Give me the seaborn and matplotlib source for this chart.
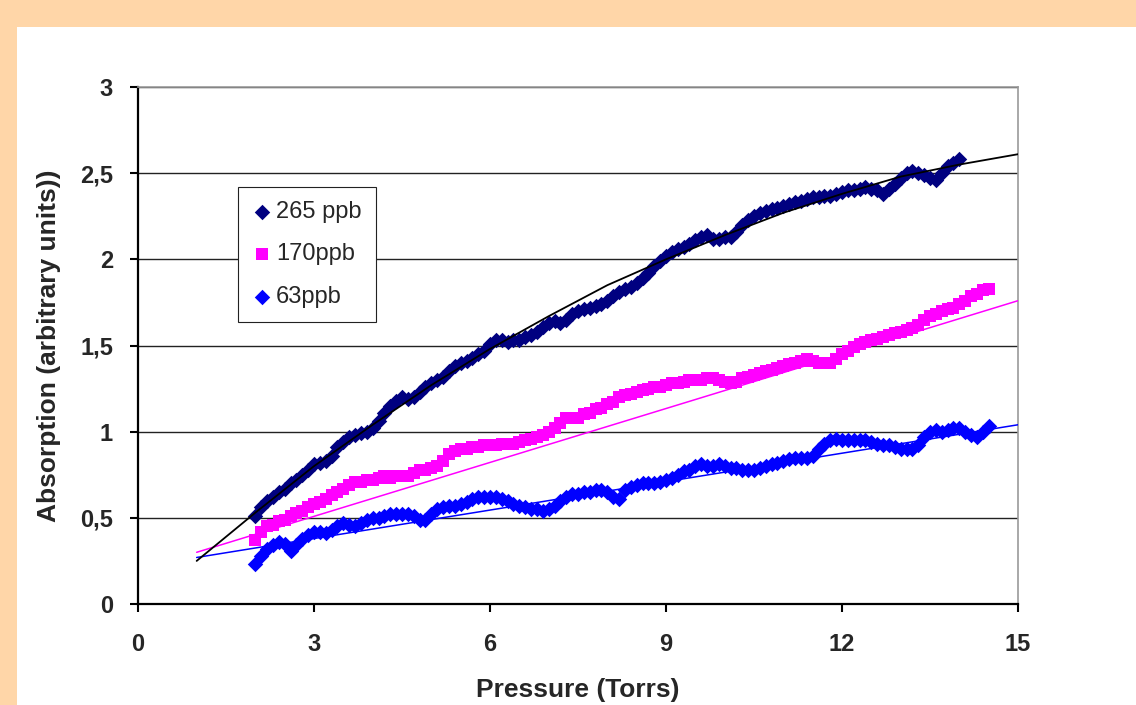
import numpy as np
import pandas as pd
import seaborn as sns
import matplotlib.pyplot as plt
from matplotlib.patches import Rectangle

# Absorption vs pressure for three concentrations

# readings every 0.1 Torr
p_265 = np.round(np.arange(2.0, 14.01, 0.1), 1)
p_170 = np.round(np.arange(2.0, 14.51, 0.1), 1)
p_63 = np.round(np.arange(2.0, 14.51, 0.1), 1)

abs_265 = [0.51, 0.56, 0.60, 0.62, 0.65, 0.67, 0.70, 0.72, 0.75, 0.78,
           0.81, 0.82, 0.83, 0.86, 0.91, 0.94, 0.97, 0.98, 0.99, 1.00,
           1.02, 1.06, 1.11, 1.15, 1.18, 1.20, 1.19, 1.20, 1.23, 1.26,
           1.28, 1.30, 1.32, 1.35, 1.38, 1.40, 1.41, 1.43, 1.45, 1.47,
           1.51, 1.53, 1.53, 1.52, 1.53, 1.53, 1.55, 1.56, 1.58, 1.61,
           1.63, 1.64, 1.63, 1.65, 1.68, 1.70, 1.71, 1.72, 1.73, 1.74,
           1.76, 1.79, 1.81, 1.83, 1.84, 1.86, 1.89, 1.92, 1.96, 1.99,
           2.02, 2.04, 2.06, 2.07, 2.09, 2.11, 2.13, 2.14, 2.12, 2.12,
           2.13, 2.13, 2.16, 2.20, 2.23, 2.25, 2.27, 2.28, 2.29, 2.30,
           2.31, 2.32, 2.33, 2.34, 2.35, 2.36, 2.36, 2.37, 2.37, 2.38,
           2.39, 2.40, 2.40, 2.41, 2.42, 2.41, 2.40, 2.38, 2.41, 2.44,
           2.47, 2.50, 2.51, 2.50, 2.49, 2.47, 2.46, 2.50, 2.54, 2.56,
           2.58]

abs_170 = [0.37, 0.42, 0.45, 0.46, 0.48, 0.49, 0.51, 0.53, 0.54, 0.56,
           0.58, 0.59, 0.61, 0.63, 0.65, 0.67, 0.69, 0.71, 0.71, 0.72,
           0.72, 0.73, 0.74, 0.73, 0.74, 0.74, 0.74, 0.76, 0.78, 0.78,
           0.79, 0.80, 0.83, 0.87, 0.89, 0.90, 0.90, 0.91, 0.91, 0.92,
           0.92, 0.92, 0.93, 0.93, 0.93, 0.94, 0.95, 0.96, 0.97, 0.98,
           1.00, 1.02, 1.05, 1.08, 1.08, 1.08, 1.10, 1.11, 1.13, 1.14,
           1.16, 1.17, 1.20, 1.21, 1.22, 1.23, 1.24, 1.25, 1.26, 1.26,
           1.27, 1.28, 1.28, 1.29, 1.30, 1.30, 1.30, 1.31, 1.31, 1.30,
           1.29, 1.28, 1.29, 1.31, 1.32, 1.33, 1.34, 1.35, 1.36, 1.37,
           1.38, 1.39, 1.40, 1.41, 1.42, 1.41, 1.40, 1.40, 1.40, 1.42,
           1.45, 1.47, 1.49, 1.51, 1.52, 1.53, 1.54, 1.55, 1.56, 1.57,
           1.58, 1.59, 1.60, 1.62, 1.65, 1.67, 1.68, 1.70, 1.71, 1.72,
           1.74, 1.76, 1.79, 1.80, 1.82, 1.83]

abs_63 = [0.23, 0.28, 0.32, 0.34, 0.36, 0.35, 0.31, 0.34, 0.38, 0.40,
          0.42, 0.42, 0.41, 0.43, 0.45, 0.47, 0.46, 0.45, 0.47, 0.49,
          0.50, 0.50, 0.51, 0.52, 0.52, 0.52, 0.52, 0.51, 0.49, 0.49,
          0.52, 0.55, 0.56, 0.57, 0.57, 0.58, 0.59, 0.61, 0.62, 0.62,
          0.62, 0.62, 0.61, 0.60, 0.58, 0.57, 0.56, 0.55, 0.55, 0.54,
          0.55, 0.57, 0.60, 0.62, 0.64, 0.64, 0.65, 0.65, 0.66, 0.66,
          0.65, 0.62, 0.61, 0.66, 0.68, 0.69, 0.70, 0.70, 0.70, 0.71,
          0.72, 0.73, 0.75, 0.77, 0.78, 0.80, 0.81, 0.80, 0.80, 0.81,
          0.80, 0.79, 0.79, 0.78, 0.78, 0.78, 0.79, 0.80, 0.81, 0.82,
          0.83, 0.84, 0.85, 0.85, 0.85, 0.86, 0.90, 0.93, 0.95, 0.96,
          0.95, 0.95, 0.95, 0.95, 0.95, 0.94, 0.93, 0.92, 0.92, 0.91,
          0.90, 0.90, 0.90, 0.92, 0.97, 1.00, 1.01, 1.00, 1.01, 1.02,
          1.02, 1.00, 0.98, 0.97, 1.00, 1.03]

# trend lines as drawn on the chart
trend_p_265 = [1, 2, 3, 4, 5, 6, 7, 8, 9, 10, 11, 12, 13, 14, 15]
trend_265 = [0.25, 0.53, 0.80, 1.04, 1.27, 1.48, 1.67, 1.85, 2.00, 2.14,
             2.27, 2.38, 2.48, 2.55, 2.61]
trend_p_lin = [1, 15]
trend_170 = [0.30, 1.76]
trend_63 = [0.27, 1.04]

labels = ['265 ppb', '170ppb', '63ppb']
y_ticks = [0, 0.5, 1, 1.5, 2, 2.5, 3]
y_tick_labels = ['0', '0,5', '1', '1,5', '2', '2,5', '3']
x_ticks = [0, 3, 6, 9, 12, 15]

sns.set_style('ticks')
plt.rcParams['font.family'] = ['Liberation Sans', 'DejaVu Sans']

W, H = 1136, 705
fig = plt.figure(figsize=(W / 100, H / 100), dpi=100, facecolor='#FFD6A8')
# white panel behind the chart (peach border on top and left)
fig.patches.append(Rectangle((17 / W, 0), (W - 17) / W, (H - 27) / H,
                             transform=fig.transFigure, facecolor='white',
                             edgecolor='none', zorder=-5))
ax = fig.add_axes([138 / W, 101 / H, 880 / W, 517 / H])
ax.set_zorder(1)
ax.set_facecolor('white')

df_265 = pd.DataFrame({'p': p_265, 'a': abs_265})
df_170 = pd.DataFrame({'p': p_170, 'a': abs_170})
df_63 = pd.DataFrame({'p': p_63, 'a': abs_63})

sns.scatterplot(data=df_265, x='p', y='a', ax=ax, marker='D', s=62,
                color='#000080', linewidth=0, label=labels[0], zorder=3)
sns.scatterplot(data=df_170, x='p', y='a', ax=ax, marker='s', s=82,
                color='#FF00FF', linewidth=0, label=labels[1], zorder=3)
sns.scatterplot(data=df_63, x='p', y='a', ax=ax, marker='D', s=62,
                color='#0000FF', linewidth=0, label=labels[2], zorder=3)

sns.lineplot(x=trend_p_lin, y=trend_170, ax=ax, color='#FF00FF', lw=1.1,
             legend=False, zorder=4)
sns.lineplot(x=trend_p_lin, y=trend_63, ax=ax, color='#0000FF', lw=1.1,
             legend=False, zorder=4)
sns.lineplot(x=trend_p_265, y=trend_265, ax=ax, color='black', lw=1.3,
             legend=False, zorder=4)

ax.set_xlim(0, 15)
ax.set_ylim(0, 3)
ax.set_xticks(x_ticks)
ax.set_xticklabels([str(t) for t in x_ticks])
ax.set_yticks(y_ticks)
ax.set_yticklabels(y_tick_labels)
ax.tick_params(axis='both', direction='out', length=6, width=1.5,
               color='black', labelsize=17)
ax.tick_params(axis='x', pad=15)
ax.tick_params(axis='y', pad=12)
for lab in ax.get_xticklabels() + ax.get_yticklabels():
    lab.set_fontweight('bold')

ax.set_axisbelow(True)
ax.yaxis.grid(True, color='#222222', lw=1)
ax.xaxis.grid(False)

for side in ['left', 'bottom']:
    ax.spines[side].set_color('black')
    ax.spines[side].set_linewidth(1.6)
for side in ['top', 'right']:
    ax.spines[side].set_visible(True)
    ax.spines[side].set_color('#999999')
    ax.spines[side].set_linewidth(1.2)

ax.set_xlabel('Pressure (Torrs)', fontsize=19, fontweight='bold')
ax.xaxis.set_label_coords(0.5, -0.180)
ax.xaxis.label.set_verticalalignment('baseline')
ax.set_ylabel('Absorption (arbitrary units))', fontsize=19, fontweight='bold')
ax.yaxis.set_label_coords(-0.088, 0.5)

leg = ax.legend(loc='upper left', bbox_to_anchor=(0.114, 0.8066),
                borderaxespad=0, fontsize=17, frameon=True, fancybox=False,
                framealpha=1, edgecolor='#222222', handlelength=0.8,
                handletextpad=0.2, borderpad=0.6, labelspacing=0.86,
                scatterpoints=1)
leg.get_frame().set_linewidth(0.8)
leg.set_zorder(5)

plt.savefig('out.png', dpi=100, facecolor=fig.get_facecolor())
